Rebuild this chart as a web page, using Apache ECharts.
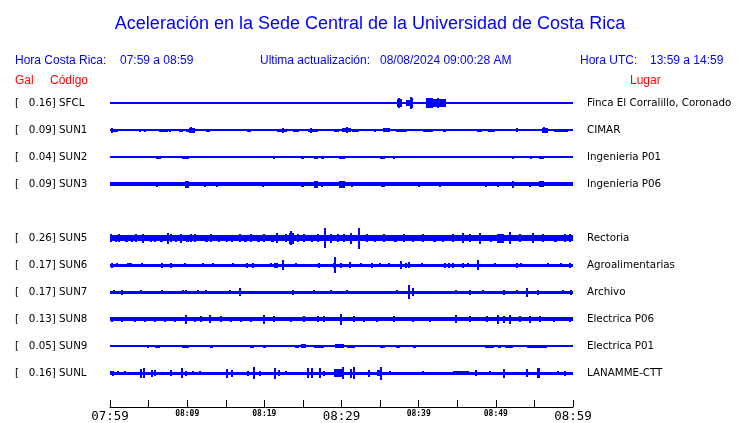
<!DOCTYPE html>
<html>
<head>
<meta charset="utf-8">
<script src="https://cdn.jsdelivr.net/npm/echarts@6/dist/echarts.min.js"></script>
<style>html,body{margin:0;padding:0;background:#fff}#c{width:740px;height:423px}</style>
</head>
<body>
<div id="c"></div>
<script>
// ---------- text ----------
const chartTitle = 'Aceleración en la Sede Central de la Universidad de Costa Rica';
const headerLocalLabel = 'Hora Costa Rica:';
const headerLocalRange = '07:59 a 08:59';
const headerUpdateLabel = 'Ultima actualización:';
const headerUpdateValue = '08/08/2024 09:00:28 AM';
const headerUtcLabel = 'Hora UTC:';
const headerUtcRange = '13:59 a 14:59';
const colGal = 'Gal';
const colCode = 'Código';
const colPlace = 'Lugar';

// ---------- stations ----------
const stations = ['SFCL','SUN1','SUN2','SUN3','SUN5','SUN6','SUN7','SUN8','SUN9','SUNL'];
const galValues = ['0.16','0.09','0.04','0.09','0.26','0.17','0.17','0.13','0.05','0.16'];
const places = ['Finca El Corralillo, Coronado','CIMAR','Ingenieria P01','Ingenieria P06','Rectoria',
  'Agroalimentarias','Archivo','Electrica P06','Electrica P01','LANAMME-CTT'];
const rowSlots = [0,1,2,3,5,6,7,8,9,10];   // slot 4 (SUN4) is empty
const slotCount = 11;

// ---------- time axis (minutes after 07:59) ----------
const timeMin = 0, timeMax = 60, tickStep = 5;
const tickLabels = {0:'07:59',10:'08:09',20:'08:19',30:'08:29',40:'08:39',50:'08:49',60:'08:59'};
const majorTicks = [0,30,60];

// ---------- trace envelopes: base half-amplitude + bursts [minute, halfAmp, duration] ----------
const baseAmp = [0.6,0.6,0.6,1.7,3.0,1.5,1.5,1.7,0.6,1.5];
const burstSFCL = [[0.1,1.5,0.2],[0.75,1.5,0.4],[1.3,1.5,1.0],[3.5,1],[4.8,1.5],[7.0,1],[20.2,1.5],
  [33.5,1],[34.5,1],[35.0,1.5],[35.8,1],[36.3,1],[36.7,1.5,0.5],[37.2,4,0.6],[37.5,5],[38.3,3,0.6],
  [38.9,5.5,0.4],[39.0,6.5],[39.6,1],[41.0,5,0.9],[41.9,4,0.9],[42.5,5.5],[42.8,4.5,0.8],[43.6,1.3,3.5],
  [47.2,1.2,0.9],[49.6,1],[50.6,1],[51.4,1],[52.2,1],[53.9,1.5,0.4],[54.8,1],[55.6,1],[55.9,1.5,0.6],[57.2,1]];
const burstSUN1 = [[0.1,1.5,0.9],[0.3,2.5],[1.6,1],[2.3,1],[2.8,1],[3.3,1],[3.9,1.5],[4.4,1.5,0.3],[5.7,1],
  [6.4,1.5,1.1],[7.8,1.5],[9.0,1.5,0.5],[9.9,1.5,0.3],[10.2,2.5,0.8],[10.5,3],[11.2,1],[12.5,1.5,0.5],
  [13.9,1],[14.4,1],[14.7,1],[15.7,1],[16.6,1],[17.8,1.5,0.5],[18.9,1],[19.6,1],[20.4,1],[21.7,1.5,1.3],
  [22.4,2.5],[23.7,1.5,0.8],[24.9,1],[25.7,1.5,1.2],[26.0,2.5],[29.0,1.5,0.7],[30.1,2,1.1],[30.7,3],
  [31.4,1.5,0.9],[32.9,1,0.9],[34.4,1.5],[35.4,2,0.9],[37.0,1.5,1.5],[39.3,1,0.9],[40.6,1.5,1.3],[42.4,1],
  [43.2,1.5,0.4],[44.5,1],[46.7,1],[47.5,1.5,0.7],[48.4,1],[49.0,1.5,0.9],[51.4,1,0.8],[52.7,2],[55.0,1],
  [56.0,2.5,0.8],[56.3,3],[57.6,1.5,1.7]];
const burstSUN2 = [[6.0,1.5,0.6],[9.3,1.5,1.0],[20.4,1],[21.3,1.5],[23.6,1],[24.3,1],[24.8,1.5,0.4],
  [26.4,1.5,0.5],[27.3,1.5,0.4],[29.7,1.5,0.7],[32.6,1],[35.0,1.5,0.6],[36.8,1.5],[50.4,1],[52.2,1.5],
  [54.5,1.5],[55.6,1.5,0.6],[59.5,1]];
const burstSUN3 = [[6.1,2.5],[6.9,2],[9.7,3.5,0.6],[12.3,2.5],[13.9,2.5],[19.8,2.5],[23.7,2],[24.1,2],
  [24.8,2.5,0.4],[26.5,3.5,0.4],[27.5,2.5],[29.7,3.5,0.7],[30.7,2.2],[31.4,2.5],[35.1,2.5,0.5],[40.0,2.5],
  [42.7,2.5],[43.6,2],[48.7,2.5],[50.3,2.5],[52.2,3.5],[54.4,2.5],[55.0,2.2],[55.6,3,0.6]];
const burstSUN5 = [[0.1,4],[0.6,3.5,0.3],[1.2,4],[1.9,3.5,0.4],[2.8,3.5],[3.4,4],[4.3,4.5],[5.2,3.5,0.3],
  [5.8,3.5],[6.5,3.5,0.4],[7.5,5.5],[7.9,4],[8.4,3.5,0.3],[9.2,4.5],[9.9,3.5,0.4],[10.5,3.8],[11.0,4],
  [12.3,3.5,0.4],[13.1,4],[14.0,3.5,0.3],[15.1,3.5],[15.7,3.5,0.3],[16.8,4],[17.4,3.5,0.4],[18.3,4],
  [19.1,3.5,0.3],[20.0,4],[20.9,3.5,0.4],[21.7,5],[22.8,4],[23.2,5.5,0.7],[23.5,7],[24.3,4],[25.2,4],
  [26.0,3.5,0.3],[26.9,4],[27.9,10],[28.6,4.5],[29.5,4],[30.3,4],[31.2,5.5],[32.3,10.5],[33.3,4],
  [34.2,3.5,0.3],[35.5,4],[36.8,3.5,0.4],[38.1,4],[39.3,3.5],[40.6,4],[41.9,3.5,0.3],[43.2,3.5],
  [44.5,4],[45.8,5],[46.7,4],[47.9,5.5],[49.2,3.5,0.3],[50.1,4.5,0.9],[51.8,6],[53.1,4],[54.8,5],
  [56.1,4],[57.6,3.5,0.3],[58.9,4],[59.6,4]];
const burstSUN6 = [[0.1,2.5,0.3],[0.9,2],[2.2,2,0.6],[4.1,2],[6.8,2.5],[7.9,2.5],[9.7,2],[12.0,2],[13.3,2],
  [15.9,2],[17.8,2.5],[18.5,2.5],[20.9,2],[21.4,2.5],[21.6,2.5],[22.4,5],[24.1,2],[27.1,2.5],[29.0,2.5],
  [29.2,8],[29.9,2.5],[31.1,3],[32.5,2],[34.0,2.5],[35.0,2],[36.1,2],[37.7,4],[38.3,2.5],[38.8,3],
  [40.4,2],[43.4,2.5],[43.9,2.5],[44.5,2.5],[45.8,2.5],[46.4,2],[47.7,5],[49.9,2],[52.7,2.5],[53.3,2],
  [56.7,2],[58.5,2],[59.6,2.5]];
const burstSUN7 = [[0.5,2],[1.5,2.5],[4.0,2],[6.7,2],[9.5,2],[9.9,2],[11.4,2],[12.5,2],[15.5,2],[16.8,4],
  [23.7,2.5],[26.4,2],[28.6,2],[30.7,2],[37.2,2],[38.8,7],[39.3,4],[44.8,2],[46.7,2.5],[48.4,2],[51.0,2.5],
  [52.7,2],[54.1,4.5],[55.5,2.5],[58.7,2],[59.8,2.5]];
const burstSUN8 = [[0.2,2.5],[1.5,2.5],[3.2,2.5],[4.5,2.5],[5.8,2.5],[7.1,2.5],[8.4,2.5],[9.8,4.5],
  [11.0,2.5],[11.8,3],[13.0,4],[14.4,3],[15.7,2.5],[17.0,2.5],[18.3,2.5],[19.9,4.5],[21.3,3],[23.4,2.5],
  [25.1,3],[26.9,3],[27.7,3],[29.9,5.5],[31.6,3],[32.9,2.5],[34.6,2.5],[36.8,3],[39.3,2.5],[41.5,2.5],
  [44.9,4],[46.7,3],[48.8,3],[50.3,4.5],[51.0,3.5],[51.8,4.5],[53.1,3],[54.4,3.5],[55.7,3],[57.6,2.5],
  [59.6,2.5]];
const burstSUN9 = [[0.3,1],[1.9,1],[2.5,1],[3.0,1],[4.9,1.5],[5.8,1.5,0.7],[7.0,1],[9.3,1.5,1.0],[11.0,1],
  [12.9,1.5,0.4],[14.2,1],[15.2,1],[15.8,1],[16.6,1],[17.2,1],[18.1,1.5,0.6],[19.8,1.5,0.4],[20.9,1,0.4],
  [22.1,1],[23.0,1],[24.0,1.5,0.5],[24.8,2,0.6],[26.4,1.5,1.3],[28.6,1],[29.2,2,1.1],[30.7,1.5,1.1],
  [33.3,1],[35.0,1.5,0.7],[37.0,1.5,0.6],[39.3,1.5,0.3],[42.1,1,0.5],[43.6,1],[45.0,1],[46.4,1],[47.1,1],
  [48.6,1.5,1.1],[50.3,1.5,0.4],[51.2,1.5,1.0],[52.9,1],[54.0,1.5,2.6],[57.4,1],[59.6,1]];
const burstSUNL = [[0.1,2],[0.4,2.5],[1.1,2],[1.9,2],[4.0,4.5],[4.4,5],[5.4,3.5],[5.8,3],[7.9,3],
  [9.2,5,0.3],[9.9,2.5],[10.8,2],[11.6,2],[15.2,4.5],[15.8,3.5],[17.9,2.5],[18.6,6],[19.5,2.5],[21.4,5.5],
  [21.9,3],[22.8,2],[25.6,5],[26.2,5],[27.2,5],[27.7,2.5],[29.0,4,1.0],[30.2,6],[31.2,4.5],[31.6,6],
  [33.5,3.5],[34.6,3,0.5],[35.1,6.5],[36.3,2],[40.6,2],[44.5,1.8,2.0],[45.7,2],[47.4,3],[49.2,2],[51.0,4.5],
  [54.0,4],[55.3,5,0.4],[58.1,2],[59.0,2.5]];
const bursts = [burstSFCL,burstSUN1,burstSUN2,burstSUN3,burstSUN5,burstSUN6,burstSUN7,burstSUN8,burstSUN9,burstSUNL];

// ---------- layout / style ----------
const ROW = 27.1;                 // vertical units per slot (1 unit = 1 px)
const gridTop = 89.5, gridLeft = 110, gridRight = 167;
const gridHeight = ROW * slotCount;
const axisY = 408;
const spikeWidth = 2;
const blue = '#0000ff', red = '#ff0000';
const sans = '"Liberation Sans", Arial, sans-serif';
const dejavu = '"DejaVu Sans", sans-serif';
const mono = '"DejaVu Sans Mono", monospace';

const leftLabels = new Array(slotCount).fill('');
const rightLabels = new Array(slotCount).fill('');
stations.forEach((s, i) => {
  leftLabels[rowSlots[i]] = '[   ' + galValues[i] + '] ' + s;
  rightLabels[rowSlots[i]] = places[i];
});

const series = stations.map((s, i) => {
  const y = rowSlots[i] * ROW;
  const data = [[timeMin, timeMax, baseAmp[i], y]];
  bursts[i].forEach(b => data.push([b[0], b[0] + (b[2] || 0), b[1], y]));
  return {
    type: 'custom', name: s, xAxisIndex: 0, yAxisIndex: 0, clip: false, silent: true,
    encode: {x: [0, 1], y: 3},
    renderItem: function (params, api) {
      const s0 = api.value(0), e0 = api.value(1), a = api.value(2), cy = api.value(3);
      const p0 = api.coord([s0, cy - a]);
      const p1 = api.coord([e0, cy + a]);
      let x0 = Math.round(p0[0]), x1 = Math.round(p1[0]);
      if (x1 - x0 < spikeWidth) { x0 = Math.round(p0[0] - spikeWidth / 2); x1 = x0 + spikeWidth; }
      let y0 = Math.round(Math.min(p0[1], p1[1])), y1 = Math.round(Math.max(p0[1], p1[1]));
      if (y1 - y0 < 1) y1 = y0 + 1;
      return {type: 'rect', shape: {x: x0, y: y0, width: x1 - x0, height: y1 - y0},
              style: {fill: blue}};
    },
    data: data
  };
});

function txt(text, left, top, color, size) {
  return {text: text, left: left, top: top, padding: 0,
    textStyle: {color: color, fontSize: size, fontWeight: 'normal', fontFamily: sans}};
}

const chart = echarts.init(document.getElementById('c'), null, {renderer: 'canvas'});
chart.setOption({
  animation: false,
  backgroundColor: '#ffffff',
  title: [
    {text: chartTitle, left: 'center', top: 15, padding: 0,
     textStyle: {color: blue, fontSize: 18, fontWeight: 'normal', fontFamily: sans}},
    txt(headerLocalLabel, 15, 55, blue, 12),
    txt(headerLocalRange, 120, 55, blue, 12),
    txt(headerUpdateLabel, 260, 55, blue, 12),
    txt(headerUpdateValue, 380, 55, blue, 12),
    txt(headerUtcLabel, 580, 55, blue, 12),
    txt(headerUtcRange, 650, 55, blue, 12),
    txt(colGal, 15, 75, red, 12),
    txt(colCode, 50, 75, red, 12),
    txt(colPlace, 630, 75, red, 12)
  ],
  grid: {left: gridLeft, right: gridRight, top: gridTop, height: gridHeight, containLabel: false},
  xAxis: {
    type: 'value', min: timeMin, max: timeMax, interval: tickStep,
    position: 'bottom',
    offset: axisY - (gridTop + gridHeight),
    axisLine: {show: true, onZero: false, lineStyle: {color: '#000', width: 1}},
    axisTick: {show: true, inside: true, length: 7, lineStyle: {color: '#000', width: 1}},
    splitLine: {show: false},
    axisLabel: {
      margin: 3, showMinLabel: true, showMaxLabel: true,
      formatter: function (v) {
        const t = tickLabels[v];
        if (!t) return '';
        return majorTicks.indexOf(v) >= 0 ? '{big|' + t + '}' : '{small|' + t + '}';
      },
      rich: {
        big: {fontFamily: mono, fontSize: 12.5, color: '#000', verticalAlign: 'top', lineHeight: 14},
        small: {fontFamily: mono, fontSize: 8, fontWeight: 'bold', color: '#000', verticalAlign: 'top', lineHeight: 14}
      }
    }
  },
  yAxis: [
    {type: 'value', show: false, inverse: true, min: -ROW / 2, max: gridHeight - ROW / 2},
    {type: 'category', inverse: true, position: 'left', data: leftLabels,
     axisLine: {show: false}, axisTick: {show: false}, splitLine: {show: false},
     axisLabel: {interval: 0, align: 'left', margin: gridLeft - 15, color: '#000',
                 fontFamily: dejavu, fontSize: 10.3}},
    {type: 'category', inverse: true, position: 'right', data: rightLabels,
     axisLine: {show: false}, axisTick: {show: false}, splitLine: {show: false},
     axisLabel: {interval: 0, align: 'left', margin: 14, color: '#000',
                 fontFamily: dejavu, fontSize: 10.3}}
  ],
  series: series
});
</script>
</body>
</html>
